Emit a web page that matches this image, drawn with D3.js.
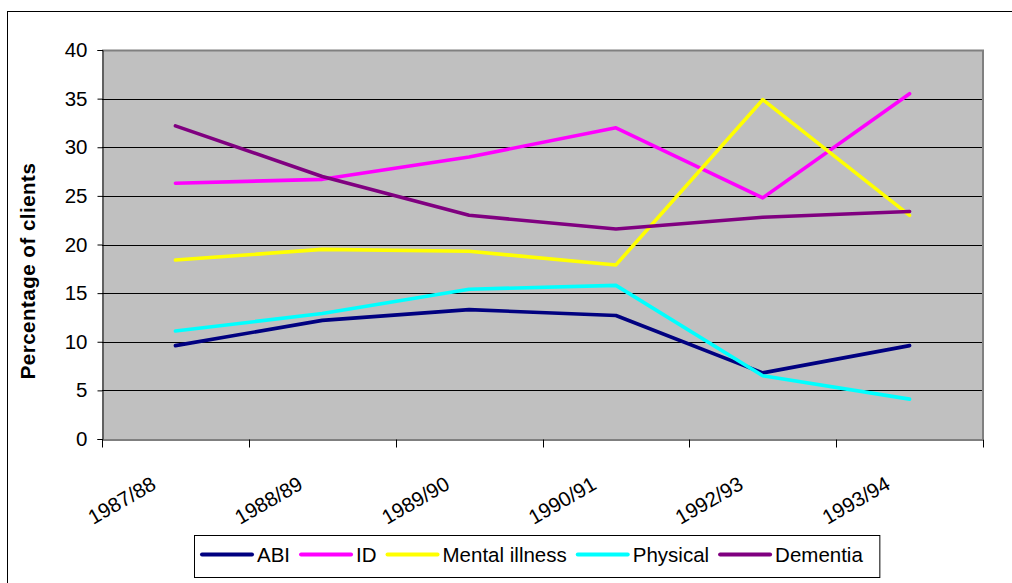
<!DOCTYPE html>
<html>
<head>
<meta charset="utf-8">
<script src="https://cdn.jsdelivr.net/npm/d3@7/dist/d3.min.js"></script>
<style>
  html, body { margin: 0; padding: 0; background: #fff; }
  svg { display: block; font-family: "Liberation Sans", Arial, sans-serif; }
</style>
</head>
<body>
<svg id="chart" width="1012" height="583"></svg>
<script>
// Client group shares by financial year
const years = ["1987/88", "1988/89", "1989/90", "1990/91", "1992/93", "1993/94"];
const abi = [9.6, 12.2, 13.3, 12.7, 6.8, 9.6];
const id = [26.3, 26.7, 29.0, 32.0, 24.8, 35.5];
const mentalIllness = [18.4, 19.5, 19.3, 17.9, 34.9, 23.0];
const physical = [11.1, 12.9, 15.4, 15.8, 6.5, 4.1];
const dementia = [32.2, 27.0, 23.0, 21.6, 22.8, 23.4];
const yTicks = [0, 5, 10, 15, 20, 25, 30, 35, 40];
const yTitle = "Percentage of clients";

const series = [
  { name: "ABI", values: abi, color: "#000080" },
  { name: "ID", values: id, color: "#FF00FF" },
  { name: "Mental illness", values: mentalIllness, color: "#FFFF00" },
  { name: "Physical", values: physical, color: "#00FFFF" },
  { name: "Dementia", values: dementia, color: "#800080" }
];

const FONT = "20.5px";

const svg = d3.select("#chart");
const plot = { left: 102, top: 50, right: 983, bottom: 439 };

// outer chart frame
svg.append("rect")
  .attr("x", 7.5).attr("y", 11.5)
  .attr("width", 1100).attr("height", 700)
  .attr("fill", "#fff").attr("stroke", "#000").attr("stroke-width", 1);

const x = d3.scaleBand().domain(years).range([plot.left, plot.right]).padding(0);
const y = d3.scaleLinear().domain([0, 40]).range([plot.bottom, plot.top]);

// plot area background
svg.append("rect")
  .attr("x", plot.left).attr("y", plot.top)
  .attr("width", plot.right - plot.left).attr("height", plot.bottom - plot.top)
  .attr("fill", "#C0C0C0");

// horizontal gridlines
svg.append("g").selectAll("line")
  .data(yTicks.filter(t => t > 0 && t < 40))
  .join("line")
  .attr("x1", plot.left).attr("x2", plot.right)
  .attr("y1", d => Math.round(y(d)) + 0.5).attr("y2", d => Math.round(y(d)) + 0.5)
  .attr("stroke", "#000").attr("stroke-width", 1);

// plot border top / right in grey
svg.append("path")
  .attr("d", `M${plot.left},${plot.top + 0.5}H${plot.right}V${plot.bottom}`)
  .attr("fill", "none").attr("stroke", "#808080").attr("stroke-width", 2);

// y axis
const yAxis = d3.axisLeft(y).tickValues(yTicks).tickSize(5).tickPadding(10);
const yg = svg.append("g")
  .attr("transform", `translate(${plot.left + 0.5},0)`)
  .call(yAxis);
yg.select(".domain").attr("stroke", "#000");
yg.selectAll(".tick line").attr("stroke", "#000");
yg.selectAll(".tick text")
  .attr("font-size", FONT).attr("fill", "#000")
  .attr("font-family", "Liberation Sans, Arial, sans-serif");

// x axis with ticks on category boundaries
const xAxis = d3.axisBottom(x).tickSize(0).tickFormat("");
const xg = svg.append("g")
  .attr("transform", `translate(0,${plot.bottom + 0.5})`)
  .call(xAxis);
xg.select(".domain").attr("stroke", "#000");
const boundaries = years.map(d => x(d)).concat([x(years[years.length - 1]) + x.bandwidth()]);
xg.selectAll(".bound")
  .data(boundaries)
  .join("line")
  .attr("class", "bound")
  .attr("x1", d => Math.round(d) + 0.5).attr("x2", d => Math.round(d) + 0.5)
  .attr("y1", 0).attr("y2", 8)
  .attr("stroke", "#000");

// rotated category labels
svg.append("g").selectAll("text")
  .data(years)
  .join("text")
  .attr("transform", d => `translate(${x(d) + x.bandwidth() / 2 - 18},${plot.bottom + 49}) rotate(-30)`)
  .attr("text-anchor", "end")
  .attr("font-size", FONT)
  .attr("fill", "#000")
  .text(d => d);

// y axis title
svg.append("text")
  .attr("transform", `translate(35,271) rotate(-90)`)
  .attr("text-anchor", "middle")
  .attr("font-size", "20.5px")
  .attr("font-weight", "bold")
  .attr("letter-spacing", "0.5px")
  .attr("fill", "#000")
  .text(yTitle);

// series lines
const line = d3.line()
  .x((d, i) => x(years[i]) + x.bandwidth() / 2)
  .y(d => y(d));

svg.append("g").selectAll("path")
  .data(series)
  .join("path")
  .attr("d", d => line(d.values))
  .attr("fill", "none")
  .attr("stroke", d => d.color)
  .attr("stroke-width", 3.6)
  .attr("stroke-linejoin", "round")
  .attr("stroke-linecap", "round");

// legend
const legend = svg.append("g");
const legendBox = legend.append("rect")
  .attr("x", 194.5).attr("y", 535.5)
  .attr("height", 42)
  .attr("fill", "#fff").attr("stroke", "#000").attr("stroke-width", 1);

let cursor = 202;
const legendY = 554.5;
const gap = 11;
series.forEach(s => {
  legend.append("line")
    .attr("x1", cursor).attr("x2", cursor + 50)
    .attr("y1", legendY).attr("y2", legendY)
    .attr("stroke", s.color).attr("stroke-width", 4)
    .attr("stroke-linecap", "round");
  const t = legend.append("text")
    .attr("x", cursor + 55).attr("y", legendY + 7.5)
    .attr("font-size", FONT)
    .attr("fill", "#000")
    .text(s.name);
  cursor += 55 + t.node().getComputedTextLength() + gap;
});
legendBox.attr("width", cursor - gap - 194.5 + 17);
</script>
</body>
</html>
